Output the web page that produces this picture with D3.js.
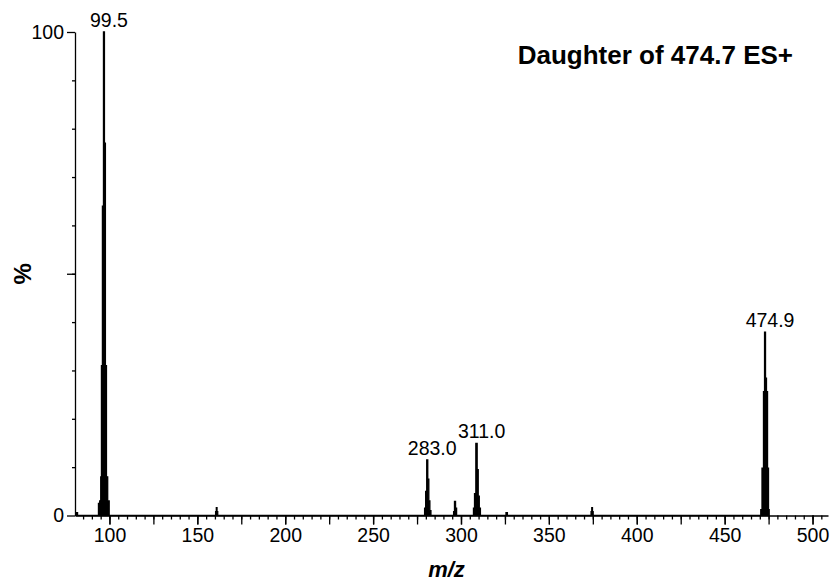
<!DOCTYPE html>
<html>
<head>
<meta charset="utf-8">
<script src="https://cdn.jsdelivr.net/npm/d3@7"></script>
<style>
  body { margin: 0; background: #fff; }
  text { font-family: "Liberation Sans", Arial, sans-serif; fill: #000; }
  .axis path, .axis line { stroke: #000; stroke-width: 1.3; }
  .axis text { font-size: 19.5px; }
</style>
</head>
<body>
<div id="chart"></div>
<script>
// profile points: [m/z, % intensity]
var mzProfile = [
    [80.8, 0], [81.5, 0.6], [82.2, 0],
    [93.5, 0], [94.0, 2.5], [94.9, 3], [95.2, 8], [95.7, 31], [96.3, 64], [96.9, 100],
    [97.4, 77], [98.0, 31], [98.6, 8], [99.4, 3], [100.3, 0],
    [160.2, 0], [160.6, 0.8], [161.0, 1.6], [161.4, 0.8], [161.8, 0],
    [279.0, 0], [279.6, 1.5], [280.2, 5], [280.8, 11.5], [281.4, 7.5], [282.0, 3], [282.6, 1], [283.2, 0],
    [295.6, 0], [296.0, 0.8], [296.6, 2.9], [297.2, 1.5], [297.8, 0],
    [306.8, 0], [307.4, 1.5], [308.0, 4.5], [308.9, 14.9], [309.5, 9.5], [310.1, 4], [310.7, 1.5], [311.4, 0],
    [325.2, 0], [326.0, 0.6], [326.8, 0],
    [373.8, 0], [374.2, 0.8], [374.6, 1.6], [375.0, 0.8], [375.4, 0],
    [470.4, 0], [470.7, 1.2], [471.8, 9.8], [472.4, 25.6], [473.0, 37.9], [473.5, 28.4],
    [474.1, 25.6], [474.7, 9.8], [475.2, 1.2], [475.5, 0]
];

// labelled peaks: text and the apex they sit over
var peakLabels = ["99.5", "283.0", "311.0", "474.9"];
var peakApexMz = [96.9, 280.8, 308.9, 473.0];
var peakApexPct = [100, 11.5, 14.9, 37.9];

var xMajorTicks = d3.range(100, 501, 50);
var xMidTicks = d3.range(100, 509, 25);
var xMinorTicks = d3.range(85, 509, 5);
var yLabelTicks = [0, 100];
var yMidTicks = [50];
var yMinorTicks = d3.range(10, 100, 10);

var titleText = "Daughter of 474.7 ES+";

var outerWidth = 830, outerHeight = 585;
var margin = {top: 32, right: 2, bottom: 69.5, left: 75},
    width = outerWidth - margin.left - margin.right,
    height = outerHeight - margin.top - margin.bottom;

var svg = d3.select("#chart").append("svg")
    .attr("width", outerWidth)
    .attr("height", outerHeight)
    .append("g")
    .attr("transform", "translate(" + margin.left + "," + margin.top + ")");

var xScale = d3.scaleLinear().domain([80.4, 508.8]).range([0, width]);
var yScale = d3.scaleLinear().domain([0, 100]).range([height, 0]);

// spectrum
var area = d3.area()
    .curve(d3.curveStep)
    .x(d => xScale(d[0]))
    .y0(yScale(0))
    .y1(d => yScale(d[1]));

svg.append("path")
    .datum(mzProfile)
    .attr("d", area)
    .attr("fill", "#000")
    .attr("stroke", "#000")
    .attr("stroke-width", 1.3)
    .attr("stroke-linejoin", "miter");

// x axis: minor, 25-step and labelled ticks
svg.append("g")
    .attr("class", "axis")
    .attr("transform", "translate(0," + height + ")")
    .call(d3.axisBottom(xScale).tickValues(xMinorTicks).tickSize(4).tickSizeOuter(0).tickFormat(""));
svg.append("g")
    .attr("class", "axis")
    .attr("transform", "translate(0," + height + ")")
    .call(d3.axisBottom(xScale).tickValues(xMidTicks).tickSize(9).tickSizeOuter(0).tickFormat(""))
    .select(".domain").remove();
svg.append("g")
    .attr("class", "axis")
    .attr("transform", "translate(0," + height + ")")
    .call(d3.axisBottom(xScale).tickValues(xMajorTicks).tickSize(9).tickPadding(4).tickFormat(d3.format("d")))
    .select(".domain").remove();

// y axis
svg.append("g")
    .attr("class", "axis")
    .call(d3.axisLeft(yScale).tickValues(yMinorTicks).tickSize(3).tickSizeOuter(0).tickFormat(""));
svg.append("g")
    .attr("class", "axis")
    .call(d3.axisLeft(yScale).tickValues(yMidTicks).tickSize(8).tickFormat(""))
    .select(".domain").remove();
svg.append("g")
    .attr("class", "axis")
    .call(d3.axisLeft(yScale).tickValues(yLabelTicks).tickSize(8).tickPadding(3).tickFormat(d3.format("d")))
    .select(".domain").remove();

// peak labels
svg.selectAll(".peak-label")
    .data(peakLabels)
    .enter()
    .append("text")
    .attr("class", "peak-label")
    .attr("x", (d, i) => xScale(peakApexMz[i]) + 5)
    .attr("y", (d, i) => yScale(peakApexPct[i]) - 5)
    .attr("text-anchor", "middle")
    .style("font-size", "19.5px")
    .text(d => d);

// title and axis titles
svg.append("text")
    .attr("x", 793 - margin.left)
    .attr("y", 64 - margin.top)
    .attr("text-anchor", "end")
    .style("font-size", "26px")
    .style("font-weight", "bold")
    .text(titleText);

svg.append("text")
    .attr("x", width / 2 - 5)
    .attr("y", 577 - margin.top)
    .attr("text-anchor", "middle")
    .style("font-size", "22px")
    .style("font-weight", "bold")
    .style("font-style", "italic")
    .text("m/z");

svg.append("text")
    .attr("transform", "translate(" + (31 - margin.left) + "," + (yScale(50)) + ") rotate(-90)")
    .attr("text-anchor", "middle")
    .style("font-size", "24px")
    .style("font-weight", "bold")
    .text("%");
</script>
</body>
</html>
